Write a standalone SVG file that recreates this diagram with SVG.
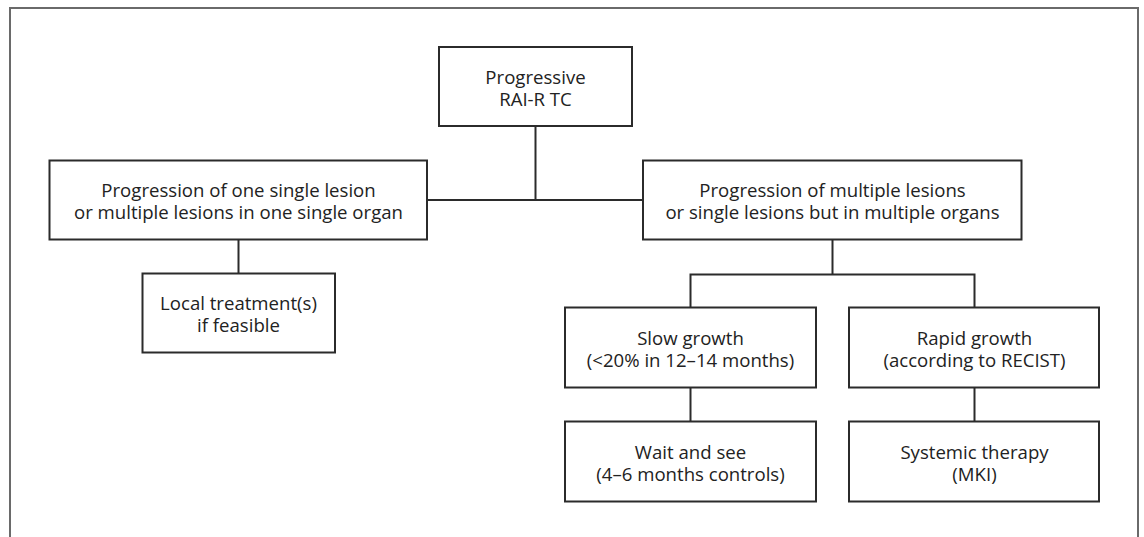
<svg xmlns="http://www.w3.org/2000/svg" width="1144" height="537" viewBox="0 0 1144 537">
<style>
.box{fill:#fff;stroke:#2b2b2b;stroke-width:2}
.ln{fill:none;stroke:#2b2b2b;stroke-width:2}
.frame{fill:none;stroke:#6a6a6a;stroke-width:2}
text{font-family:"Open Sans","Noto Sans",sans-serif;font-size:18.6px;fill:#222;text-anchor:middle}
</style>
<rect width="1144" height="537" fill="#fff"/>
<path class="frame" d="M10,537 V8 H1138 V537"/>
<g id="connectors">
<path class="ln" d="M535.5,126 V200"/>
<path class="ln" d="M427,200 H643"/>
<path class="ln" d="M238.5,239.5 V273.5"/>
<path class="ln" d="M832.5,239.5 V274.5"/>
<path class="ln" d="M690.5,307.5 V274.5 H974.5 V307.5"/>
<path class="ln" d="M690.5,387.5 V421.5"/>
<path class="ln" d="M974.5,387.5 V421.5"/>
</g>
<g id="n_root">
<rect class="box" x="439" y="47" width="193" height="79"/>
<text x="535.5" y="83.5">Progressive</text>
<text x="535.5" y="105.5">RAI-R TC</text>
</g>
<g id="n_single">
<rect class="box" x="49.5" y="160.5" width="377.5" height="79"/>
<text x="238.5" y="197">Progression of one single lesion</text>
<text x="238.5" y="219">or multiple lesions in one single organ</text>
</g>
<g id="n_multi">
<rect class="box" x="643" y="160.5" width="378.5" height="79"/>
<text x="832.5" y="197">Progression of multiple lesions</text>
<text x="832.5" y="219">or single lesions but in multiple organs</text>
</g>
<g id="n_local">
<rect class="box" x="142.5" y="273.5" width="192.5" height="79"/>
<text x="238.5" y="310">Local treatment(s)</text>
<text x="238.5" y="332">if feasible</text>
</g>
<g id="n_slow">
<rect class="box" x="565" y="307.5" width="251" height="80"/>
<text x="690.5" y="344.5">Slow growth</text>
<text x="690.5" y="366.5">(&lt;20% in 12–14 months)</text>
</g>
<g id="n_rapid">
<rect class="box" x="849" y="307.5" width="250" height="80"/>
<text x="974.5" y="344.5">Rapid growth</text>
<text x="974.5" y="366.5">(according to RECIST)</text>
</g>
<g id="n_wait">
<rect class="box" x="565" y="421.5" width="251" height="80"/>
<text x="690.5" y="458.5">Wait and see</text>
<text x="690.5" y="480.5">(4–6 months controls)</text>
</g>
<g id="n_systemic">
<rect class="box" x="849" y="421.5" width="250" height="80"/>
<text x="974.5" y="458.5">Systemic therapy</text>
<text x="974.5" y="480.5">(MKI)</text>
</g>
</svg>
